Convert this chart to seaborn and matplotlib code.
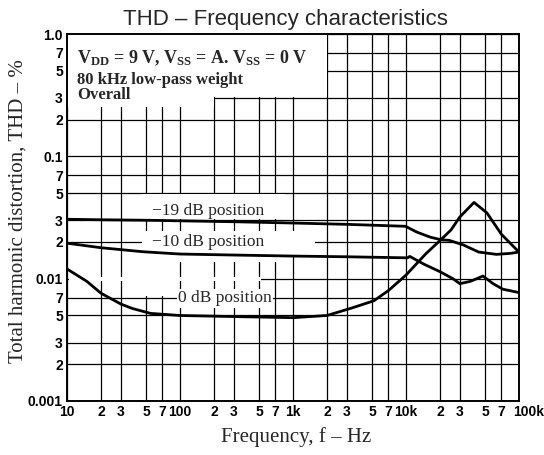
import matplotlib
matplotlib.use('Agg')
import matplotlib.pyplot as plt
import matplotlib.transforms as mtransforms
from matplotlib.ticker import FixedLocator, FixedFormatter, NullLocator
import seaborn as sns
import pandas as pd

# curve readings (Hz, THD %)
freq_m19 = [10, 20, 55, 100, 300, 1000, 3000, 9900, 12500, 16500, 21000, 24000, 32000, 44000, 63000, 84000, 100000]
thd_m19 = [0.0306, 0.0303, 0.030, 0.0297, 0.0292, 0.0285, 0.0278, 0.0268, 0.0240, 0.0218, 0.0207, 0.0206, 0.0189, 0.0165, 0.0158, 0.0161, 0.0165]

freq_m10 = [10, 20, 47, 100, 300, 1000, 3000, 10300, 10800, 14500, 20000, 26000, 30000, 37000, 48000, 59000, 72000, 100000]
thd_m10 = [0.0195, 0.0179, 0.0166, 0.0159, 0.0156, 0.0153, 0.0151, 0.0148, 0.0152, 0.0131, 0.0114, 0.0100, 0.0091, 0.0095, 0.0105, 0.0091, 0.0082, 0.0077]

freq_0 = [10, 15, 20, 30, 38, 55, 100, 300, 1000, 2000, 3400, 5200, 7000, 10000, 15000, 20000, 25000, 30000, 40000, 52000, 70000, 100000]
thd_0 = [0.0120, 0.0095, 0.0076, 0.0062, 0.0057, 0.0052, 0.0050, 0.0049, 0.0048, 0.0050, 0.0058, 0.0066, 0.0080, 0.0107, 0.0160, 0.0205, 0.0250, 0.0320, 0.0420, 0.0345, 0.0230, 0.0165]

x_ticks = [10, 20, 30, 50, 70, 100, 200, 300, 500, 700, 1000, 2000, 3000, 5000, 7000,
           10000, 20000, 30000, 50000, 70000, 100000]
x_labels = ['10', '2', '3', '5', '7', '100', '2', '3', '5', '7', '1k', '2', '3', '5', '7',
            '10k', '2', '3', '5', '7', '100k']
y_ticks = [0.001, 0.002, 0.003, 0.005, 0.007, 0.01, 0.02, 0.03, 0.05, 0.07,
           0.1, 0.2, 0.3, 0.5, 0.7, 1.0]
y_labels = ['0.001', '2', '3', '5', '7', '0.01', '2', '3', '5', '7',
            '0.1', '2', '3', '5', '7', '1.0']

df = pd.concat([
    pd.DataFrame({'freq': freq_m19, 'thd': thd_m19, 'curve': '-19 dB'}),
    pd.DataFrame({'freq': freq_m10, 'thd': thd_m10, 'curve': '-10 dB'}),
    pd.DataFrame({'freq': freq_0, 'thd': thd_0, 'curve': '0 dB'}),
])

sns.set_style('white')
plt.rcParams['font.family'] = ['Liberation Sans', 'DejaVu Sans']
plt.rcParams['mathtext.fontset'] = 'custom'
plt.rcParams['mathtext.rm'] = 'Liberation Serif:bold'
plt.rcParams['mathtext.it'] = 'Liberation Serif:italic'

fig = plt.figure(figsize=(5.44, 4.55), dpi=100)
ax = fig.add_axes([67 / 544, 1 - 401 / 455, 452 / 544, 367 / 455])

sns.lineplot(data=df, x='freq', y='thd', hue='curve', estimator=None,
             palette={'-19 dB': 'black', '-10 dB': 'black', '0 dB': 'black'},
             linewidth=2.0, legend=False, ax=ax, zorder=3)

ax.set_xscale('log')
ax.set_yscale('log')
ax.set_xlim(10, 100000)
ax.set_ylim(0.001, 1.0)
ax.xaxis.set_major_locator(FixedLocator(x_ticks))
ax.xaxis.set_major_formatter(FixedFormatter(x_labels))
ax.xaxis.set_minor_locator(NullLocator())
ax.yaxis.set_major_locator(FixedLocator(y_ticks))
ax.yaxis.set_major_formatter(FixedFormatter(y_labels))
ax.yaxis.set_minor_locator(NullLocator())
ax.tick_params(length=0, pad=3, labelsize=10, colors='black')
for lab in ax.get_xticklabels() + ax.get_yticklabels():
    lab.set_fontweight('bold')
# 100k sits to the right of the last line, as in the original
last = ax.get_xticklabels()[-1]
last.set_transform(last.get_transform() + mtransforms.ScaledTranslation(10 / 100, 0, fig.dpi_scale_trans))
ax.set_xlabel('')
ax.set_ylabel('')

ax.grid(True, color='black', linewidth=0.9)
ax.set_axisbelow(True)
for s in ax.spines.values():
    s.set_color('black')
    s.set_linewidth(1.4)

# white areas behind the notes and labels
white = dict(color='white', linewidth=0, zorder=1)
ax.fill_between([10, 2000], 0.305, 1.0, **white)
ax.fill_between([10, 200], 0.255, 0.305, **white)
ax.fill_between([46, 850], 0.0305, 0.049, **white)
ax.fill_between([46, 1550], 0.0155, 0.0245, **white)
ax.fill_between([46, 950], 0.0136, 0.0155, **white)
ax.fill_between([46, 95], 0.0072, 0.0136, **white)
ax.fill_between([10.5, 520], 0.0096, 0.0104, **white)

serif = ['Liberation Serif', 'DejaVu Serif']
ax.text(0.022, 0.921, r'V$_{\rm DD}$ = 9 V, V$_{\rm SS}$ = A. V$_{\rm SS}$ = 0 V',
        transform=ax.transAxes, family=serif, fontsize=13, fontweight='bold',
        va='baseline', zorder=4)
ax.text(0.022, 0.864, '80 kHz low-pass weight', transform=ax.transAxes,
        family=serif, fontsize=12, fontweight='bold', va='baseline', zorder=4)
ax.text(0.022, 0.823, 'Overall', transform=ax.transAxes,
        family=serif, fontsize=12, fontweight='bold', va='baseline', zorder=4)

ax.text(57, 0.036, '\u221219 dB position', family=serif, fontsize=12.5, va='center', zorder=4)
ax.text(56, 0.020, '\u221210 dB position', family=serif, fontsize=12.5, va='center', zorder=4)
ax.text(96, 0.0069, '0 dB position', family=serif, fontsize=12.5, va='center', zorder=4,
        bbox=dict(facecolor='white', edgecolor='none', pad=1))

fig.text(285 / 544, 1 - 19 / 455, 'THD \u2013 Frequency characteristics',
         fontsize=16, ha='center', va='center')
fig.text(296 / 544, 1 - 437 / 455, 'Frequency, f \u2013 Hz', family=serif,
         fontsize=15, ha='center', va='center')
fig.text(18 / 544, 1 - 211 / 455, 'Total harmonic distortion, THD \u2013 %', family=serif,
         fontsize=15, ha='center', va='center', rotation=90)

fig.savefig('out.png', dpi=100)
